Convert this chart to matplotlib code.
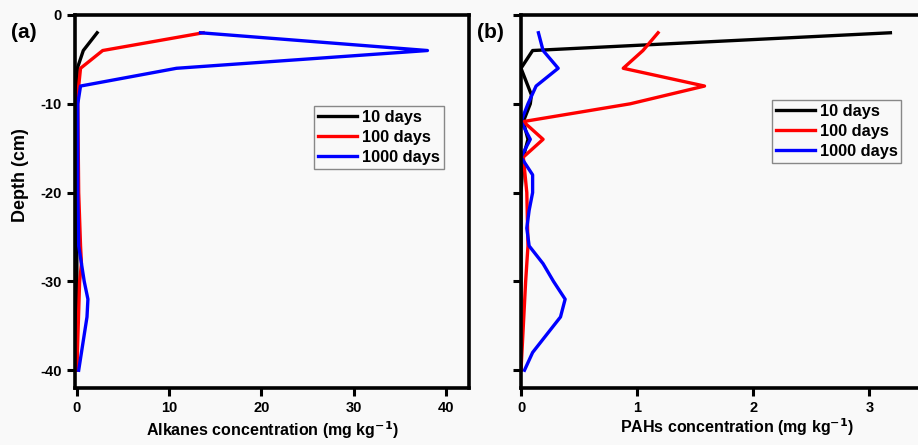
import matplotlib
matplotlib.use("Agg")
import matplotlib.pyplot as plt

plt.rcParams['font.family'] = ['Liberation Sans', 'DejaVu Sans']
plt.rcParams['font.weight'] = 'bold'
plt.rcParams['axes.unicode_minus'] = False

# Panel (a): alkanes
depth_a_10 = [-2, -4, -6, -8, -10, -20, -30, -40]
alk_10 = [2.2, 0.7, 0.05, 0.0, 0.0, 0.0, 0.0, 0.0]
depth_a_100 = [-2, -4, -6, -8, -10, -20, -26, -28, -30, -40]
alk_100 = [13.7, 2.8, 0.4, 0.2, 0.1, 0.2, 0.4, 0.5, 0.3, 0.0]
depth_a_1000 = [-2, -4, -6, -8, -10, -20, -26, -28, -30, -32, -34, -36, -38, -40]
alk_1000 = [13.4, 38.0, 10.8, 0.4, 0.1, 0.1, 0.2, 0.5, 0.8, 1.2, 1.1, 0.8, 0.5, 0.2]

# Panel (b): PAHs
depth_b_10 = [-2, -4, -6, -9, -10, -12, -14, -16, -20, -30, -40]
pah_10 = [3.18, 0.1, 0.0, 0.09, 0.08, 0.02, 0.06, 0.02, 0.0, 0.0, 0.0]
depth_b_100 = [-2, -4, -6, -8, -10, -12, -14, -16, -20, -26, -30, -40]
pah_100 = [1.18, 1.05, 0.88, 1.58, 0.94, 0.02, 0.19, 0.02, 0.05, 0.06, 0.04, 0.0]
depth_b_1000 = [-2, -4, -6, -8, -10, -12, -14, -16, -18, -20, -22, -24, -26, -28, -30, -32, -34, -36, -38, -40]
pah_1000 = [0.15, 0.19, 0.32, 0.13, 0.06, 0.0, 0.08, 0.0, 0.1, 0.1, 0.07, 0.05, 0.07, 0.19, 0.28, 0.38, 0.34, 0.22, 0.1, 0.03]

labels = ['10 days', '100 days', '1000 days']
colors = ['#000000', '#ff0000', '#0000ff']

W, H = 918, 445
fig = plt.figure(figsize=(W/100, H/100), dpi=100, facecolor='#f9f9f9')

def px(l, t, r, b):
    return [l/W, 1-b/H, (r-l)/W, (b-t)/H]

axa = fig.add_axes(px(75, 15, 469, 388))
axb = fig.add_axes(px(521, 15, 945, 388))

for ax in (axa, axb):
    ax.set_facecolor('#f9f9f9')
    for s in ax.spines.values():
        s.set_linewidth(2.6)
    ax.tick_params(width=2.2, length=6, labelsize=10.5, direction='out')
    ax.set_ylim(-42, 0)
    ax.set_yticks([0, -10, -20, -30, -40])

lw = 2.4
axa.plot(alk_10, depth_a_10, color=colors[0], lw=lw, label=labels[0])
axa.plot(alk_100, depth_a_100, color=colors[1], lw=lw, label=labels[1])
axa.plot(alk_1000, depth_a_1000, color=colors[2], lw=lw, label=labels[2])
axa.set_xlim(-0.2, 42.5)
axa.set_xticks([0, 10, 20, 30, 40])
axa.set_xlabel('Alkanes concentration (mg kg$^{\\mathbf{-1}}$)', fontsize=11.5, fontweight='bold')
axa.xaxis.set_label_coords(0.5, -0.085)
axa.set_ylabel('Depth (cm)', fontsize=13, fontweight='bold')
axa.yaxis.set_label_coords((29-75)/394, 0.57)

axb.plot(pah_10, depth_b_10, color=colors[0], lw=lw, label=labels[0])
axb.plot(pah_100, depth_b_100, color=colors[1], lw=lw, label=labels[1])
axb.plot(pah_1000, depth_b_1000, color=colors[2], lw=lw, label=labels[2])
axb.set_xlim(0, 3.65)
axb.set_xticks([0, 1, 2, 3])
axb.tick_params(axis='y', labelleft=False)
axb.set_xlabel('PAHs concentration (mg kg$^{\\mathbf{-1}}$)', fontsize=11.5, fontweight='bold')
axb.xaxis.set_label_coords((737-521)/(945-521), -0.075)

for ax in (axa, axb):
    for lab in ax.get_xticklabels() + ax.get_yticklabels():
        lab.set_fontweight('bold')

leg_kw = dict(fontsize=11.8, frameon=True, fancybox=False, edgecolor='#888888',
              facecolor='#f9f9f9', framealpha=1, handlelength=2.4, handletextpad=0.25,
              borderpad=0.25, labelspacing=0.3, borderaxespad=0)
la = axa.legend(loc='upper left', bbox_to_anchor=((314-75)/(469-75), 1-(106-15)/(388-15)), **leg_kw)
lb = axb.legend(loc='upper left', bbox_to_anchor=((772-521)/(945-521), 1-(100-15)/(388-15)), **leg_kw)
for leg in (la, lb):
    leg.get_frame().set_linewidth(1.0)
    for t in leg.get_texts():
        t.set_fontweight('bold')

fig.text(11/W, 1-33/H, '(a)', fontsize=15, fontweight='bold', va='center', ha='left')
fig.text(477/W, 1-33/H, '(b)', fontsize=15, fontweight='bold', va='center', ha='left')

fig.savefig('out.png', dpi=100, facecolor=fig.get_facecolor())
